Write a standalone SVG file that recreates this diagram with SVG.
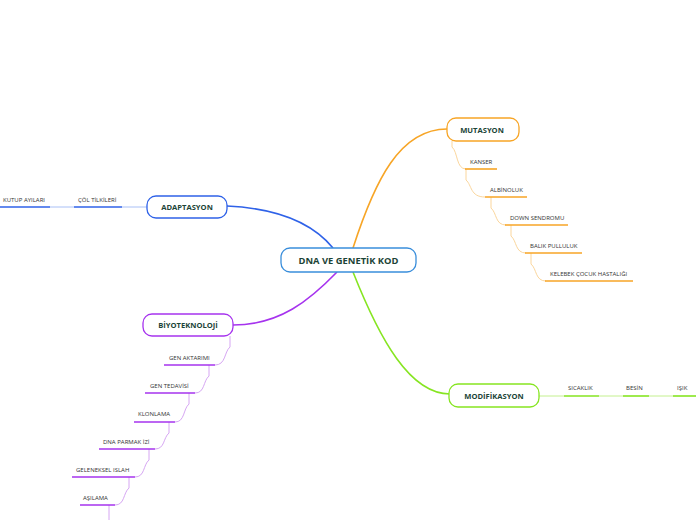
<svg xmlns="http://www.w3.org/2000/svg" width="696" height="520" viewBox="0 0 696 520">
<style>
.bg{fill:#ffffff}
.node{fill:#ffffff;stroke-width:1.3}
.nt{font-family:"Open Sans","Liberation Sans",sans-serif;font-weight:bold;fill:#1c4437;text-anchor:middle}
.ct{font-family:"Open Sans","Liberation Sans",sans-serif;font-size:6px;fill:#333333}
.main{fill:none;stroke-width:1.6}
.sub{fill:none;stroke-width:1}
.ul{fill:none;stroke-width:1.6}
</style>
<rect class="bg" x="0" y="0" width="696" height="520"/>
<g id="connectors">
  <path class="main" stroke="#f7a526" d="M353,248 C375,180 400,129 447,129"/>
  <path class="main" stroke="#2f62e8" d="M227,206 C270,208 310,220 333,248"/>
  <path class="main" stroke="#a633ee" d="M337,272 C310,300 280,325 233,325"/>
  <path class="main" stroke="#86e521" d="M353,272 C380,340 410,394 450,394"/>
  <g stroke="#fbd69c" class="sub">
    <path d="M452,141 V147 C458,152 456,169 466,169"/>
    <path d="M466,169 V180 C472,185 470,197 485,197"/>
    <path d="M491,197 V208 C497,213 495,225 506,225"/>
    <path d="M511,225 V236 C517,241 515,253 526,253"/>
    <path d="M531,253 V264 C537,269 535,281 546,281"/>
  </g>
  <g stroke="#a9c0f6" class="sub">
    <path d="M147,207 H122"/>
    <path d="M74,207 H50"/>
  </g>
  <g stroke="#c4f08f" class="sub">
    <path d="M539,396 H564"/>
    <path d="M599,396 H623"/>
    <path d="M649,396 H673"/>
  </g>
  <g stroke="#d6a6f3" class="sub">
    <path d="M230,336 V347 C224,352 226,365 215,365"/>
    <path d="M209,365 V376 C203,381 205,393 195,393"/>
    <path d="M189,393 V404 C183,409 185,422 175,422"/>
    <path d="M169,422 V433 C163,438 165,449 155,449"/>
    <path d="M149,449 V460 C143,465 145,477 135,477"/>
    <path d="M129,477 V488 C123,493 125,505 115,505"/>
    <path d="M109,505 V520"/>
  </g>
</g>
<g id="center">
  <rect class="node" x="281" y="248" width="135" height="24" rx="9" stroke="#3a8edb"/>
  <text class="nt" x="348.5" y="264" font-size="9.4" fill="#1b3446">DNA VE GENETİK KOD</text>
</g>
<g id="mutasyon">
  <rect class="node" x="447" y="118" width="72" height="23" rx="9" stroke="#f7a526"/>
  <text class="nt" x="482" y="132.5" font-size="7.6">MUTASYON</text>
</g>
<g id="adaptasyon">
  <rect class="node" x="147" y="196" width="80" height="22" rx="9" stroke="#2f62e8"/>
  <text class="nt" x="187" y="210" font-size="7.6">ADAPTASYON</text>
</g>
<g id="biyoteknoloji">
  <rect class="node" x="143" y="314" width="90" height="22" rx="9" stroke="#a633ee"/>
  <text class="nt" x="188" y="328" font-size="7.6">BİYOTEKNOLOJİ</text>
</g>
<g id="modifikasyon">
  <rect class="node" x="449" y="384" width="90" height="23" rx="9" stroke="#86e521"/>
  <text class="nt" x="494" y="398.5" font-size="7.6">MODİFİKASYON</text>
</g>
<g id="mutasyon-children">
  <g id="kanser"><path class="ul" stroke="#f7a526" d="M465,169 H497"/><text class="ct" x="470" y="164">KANSER</text></g>
  <g id="albinoluk"><path class="ul" stroke="#f7a526" d="M485,197 H527"/><text class="ct" x="490" y="192">ALBİNOLUK</text></g>
  <g id="down"><path class="ul" stroke="#f7a526" d="M505,225 H568"/><text class="ct" x="510" y="220">DOWN SENDROMU</text></g>
  <g id="balik"><path class="ul" stroke="#f7a526" d="M525,253 H582"/><text class="ct" x="530" y="248">BALIK PULLULUK</text></g>
  <g id="kelebek"><path class="ul" stroke="#f7a526" d="M545,281 H633"/><text class="ct" x="550" y="276">KELEBEK ÇOCUK HASTALIĞI</text></g>
</g>
<g id="adaptasyon-children">
  <g id="col"><path class="ul" stroke="#2f62e8" d="M74,207 H122"/><text class="ct" x="78" y="202">ÇÖL TİLKİLERİ</text></g>
  <g id="kutup"><path class="ul" stroke="#2f62e8" d="M0,207 H50"/><text class="ct" x="3" y="202">KUTUP AYILARI</text></g>
</g>
<g id="modifikasyon-children">
  <g id="sicaklik"><path class="ul" stroke="#86e521" d="M564,396 H599"/><text class="ct" x="568" y="390">SICAKLIK</text></g>
  <g id="besin"><path class="ul" stroke="#86e521" d="M623,396 H649"/><text class="ct" x="626" y="390">BESİN</text></g>
  <g id="isik"><path class="ul" stroke="#86e521" d="M673,396 H696"/><text class="ct" x="677" y="390">IŞIK</text></g>
</g>
<g id="biyoteknoloji-children">
  <g id="gen-aktarimi"><path class="ul" stroke="#a633ee" d="M164,365 H215"/><text class="ct" x="169" y="360">GEN AKTARIMI</text></g>
  <g id="gen-tedavisi"><path class="ul" stroke="#a633ee" d="M145,393 H195"/><text class="ct" x="150" y="388">GEN TEDAVİSİ</text></g>
  <g id="klonlama"><path class="ul" stroke="#a633ee" d="M134,422 H175"/><text class="ct" x="138" y="416">KLONLAMA</text></g>
  <g id="dna-parmak"><path class="ul" stroke="#a633ee" d="M99,449 H155"/><text class="ct" x="103" y="444">DNA PARMAK İZİ</text></g>
  <g id="geleneksel"><path class="ul" stroke="#a633ee" d="M72,477 H135"/><text class="ct" x="76" y="472">GELENEKSEL ISLAH</text></g>
  <g id="asilama"><path class="ul" stroke="#a633ee" d="M80,505 H115"/><text class="ct" x="83" y="500">AŞILAMA</text></g>
</g>
</svg>
